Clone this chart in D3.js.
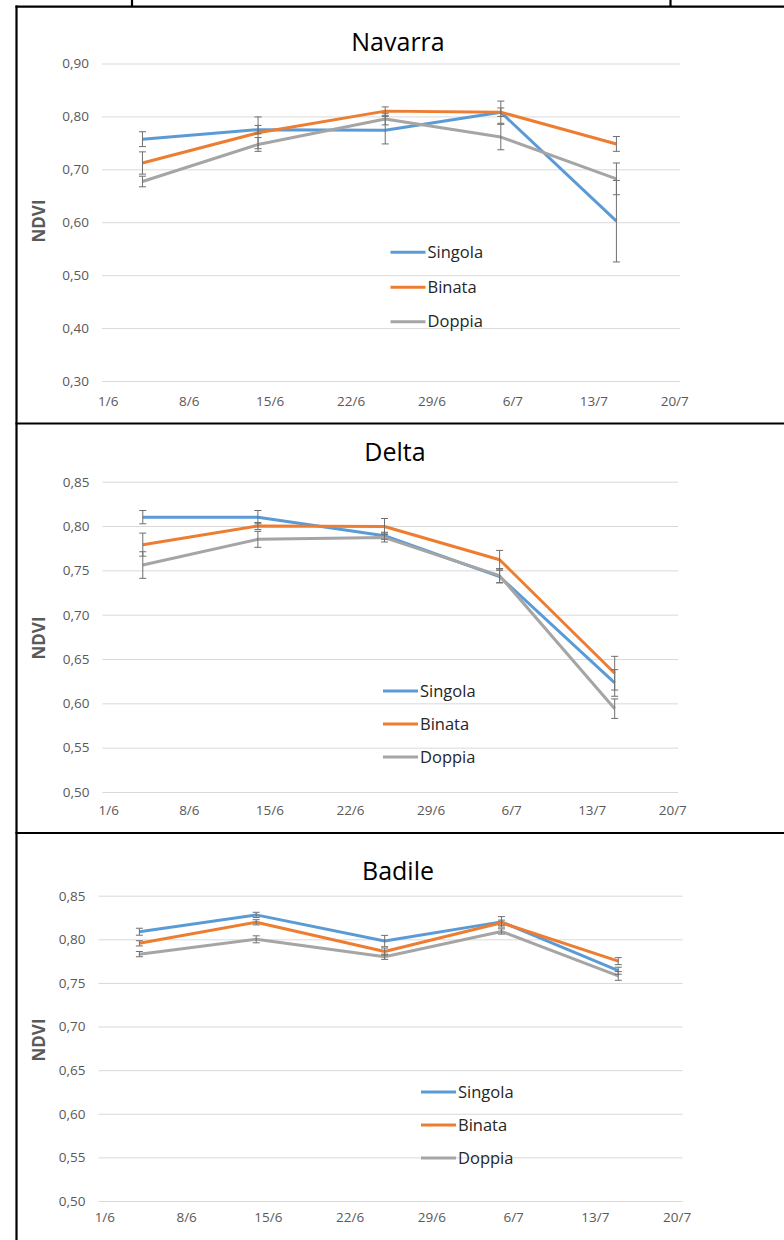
<!DOCTYPE html>
<html>
<head>
<meta charset="utf-8">
<script src="https://cdn.jsdelivr.net/npm/d3@7"></script>
<style>
  html, body { margin: 0; padding: 0; background: #fff; }
  svg { display: block; }
  text { font-family: "Open Sans", "Noto Sans", sans-serif; }
</style>
</head>
<body>
<svg id="chart" width="784" height="1240"></svg>
<script>
// ---------------- DATA ----------------
const sampleDates = ["4/6", "14/6", "25/6", "5/7", "15/7"];
const xTickLabels = ["1/6", "8/6", "15/6", "22/6", "29/6", "6/7", "13/7", "20/7"];
const seriesNames = ["Singola", "Binata", "Doppia"];

const navarraYTicks = [0.30, 0.40, 0.50, 0.60, 0.70, 0.80, 0.90];
const navarraSingola = [0.757, 0.775, 0.774, 0.808, 0.602];
const navarraSingolaErr = [0.014, 0.008, 0.026, 0.021, 0.077];
const navarraBinata = [0.712, 0.769, 0.810, 0.808, 0.748];
const navarraBinataErr = [0.021, 0.030, 0.008, 0.008, 0.014];
const navarraDoppia = [0.677, 0.747, 0.795, 0.761, 0.682];
const navarraDoppiaErr = [0.010, 0.013, 0.011, 0.024, 0.030];

const deltaYTicks = [0.50, 0.55, 0.60, 0.65, 0.70, 0.75, 0.80, 0.85];
const deltaSingola = [0.810, 0.810, 0.789, 0.743, 0.623];
const deltaSingolaErr = [0.0075, 0.0075, 0.004, 0.007, 0.015];
const deltaBinata = [0.779, 0.800, 0.7995, 0.762, 0.634];
const deltaBinataErr = [0.013, 0.004, 0.009, 0.0105, 0.019];
const deltaDoppia = [0.756, 0.785, 0.787, 0.744, 0.594];
const deltaDoppiaErr = [0.015, 0.009, 0.005, 0.008, 0.011];

const badileYTicks = [0.50, 0.55, 0.60, 0.65, 0.70, 0.75, 0.80, 0.85];
const badileSingola = [0.8087, 0.828, 0.798, 0.820, 0.764];
const badileSingolaErr = [0.004, 0.003, 0.0065, 0.006, 0.004];
const badileBinata = [0.7954, 0.8195, 0.786, 0.819, 0.775];
const badileBinataErr = [0.003, 0.003, 0.004, 0.003, 0.004];
const badileDoppia = [0.783, 0.800, 0.780, 0.809, 0.758];
const badileDoppiaErr = [0.003, 0.004, 0.003, 0.003, 0.005];

// ---------------- STYLE / LAYOUT ----------------
const colors = ["#5B9BD5", "#ED7D31", "#A5A5A5"];
const parseDate = s => d3.timeParse("%d/%m/%Y")(s + "/2021");
const hour = 3600 * 1000;
const xDomain = [new Date(parseDate("1/6").getTime() - 12 * hour),
                 new Date(parseDate("20/7").getTime() + 12 * hour)];

const panels = [
  { title: "Navarra", yTicks: navarraYTicks,
    series: [[navarraSingola, navarraSingolaErr], [navarraBinata, navarraBinataErr], [navarraDoppia, navarraDoppiaErr]],
    left: 102, right: 680, top: 63.5, bottom: 381,
    titleX: 398, titleY: 51, xPad: 15, ndviY: 221,
    legX: 390.5, legY: [252.3, 287.3, 321.7] },
  { title: "Delta", yTicks: deltaYTicks,
    series: [[deltaSingola, deltaSingolaErr], [deltaBinata, deltaBinataErr], [deltaDoppia, deltaDoppiaErr]],
    left: 102.5, right: 678, top: 481.7, bottom: 792,
    titleX: 395, titleY: 461, xPad: 13, ndviY: 638,
    legX: 383, legY: [691, 724, 757] },
  { title: "Badile", yTicks: badileYTicks,
    series: [[badileSingola, badileSingolaErr], [badileBinata, badileBinataErr], [badileDoppia, badileDoppiaErr]],
    left: 98.5, right: 682.5, top: 895.7, bottom: 1201,
    titleX: 398, titleY: 880, xPad: 11, ndviY: 1040,
    legX: 421, legY: [1092, 1125, 1158] }
];

const svg = d3.select("#chart");
const fmt = v => d3.format(".2f")(v).replace(".", ",");

panels.forEach(p => {
  const g = svg.append("g");
  const x = d3.scaleTime().domain(xDomain).range([p.left, p.right]);
  const y = d3.scaleLinear().domain([p.yTicks[0], p.yTicks[p.yTicks.length - 1]]).range([p.bottom, p.top]);

  // y axis + gridlines
  const ya = g.append("g").attr("transform", `translate(${p.left},0)`)
    .call(d3.axisLeft(y).tickValues(p.yTicks).tickFormat(fmt)
      .tickSize(-(p.right - p.left)).tickPadding(13));
  ya.select(".domain").remove();
  ya.selectAll(".tick line").attr("stroke", "#D9D9D9").attr("stroke-width", 1);
  ya.selectAll(".tick text").attr("fill", "#595959").style("font-size", "13.5px");

  // x axis labels
  const xa = g.append("g").attr("transform", `translate(0,${p.bottom})`)
    .call(d3.axisBottom(x).tickValues(xTickLabels.map(parseDate))
      .tickFormat((d, i) => xTickLabels[i]).tickSize(0).tickPadding(p.xPad));
  xa.select(".domain").remove();
  xa.selectAll(".tick text").attr("fill", "#595959").style("font-size", "13.5px");

  // title
  g.append("text").attr("x", p.titleX).attr("y", p.titleY)
    .attr("text-anchor", "middle").attr("fill", "#000")
    .style("font-size", "25px").text(p.title);

  // NDVI axis title
  g.append("text").attr("transform", `translate(45,${p.ndviY}) rotate(-90)`)
    .attr("text-anchor", "middle").attr("fill", "#595959")
    .style("font-size", "17px").style("font-weight", "bold").text("NDVI");

  // lines
  const line = d3.line().x((d, i) => x(parseDate(sampleDates[i]))).y(d => y(d));
  p.series.forEach((s, si) => {
    g.append("path").datum(s[0]).attr("d", line)
      .attr("fill", "none").attr("stroke", colors[si])
      .attr("stroke-width", 3).attr("stroke-linejoin", "round");
  });

  // error bars
  p.series.forEach((s, si) => {
    s[0].forEach((v, i) => {
      const cx = x(parseDate(sampleDates[i]));
      const e = s[1][i];
      const eg = g.append("g").attr("stroke", "#6F6F6F").attr("stroke-width", 1);
      eg.append("line").attr("x1", cx).attr("x2", cx).attr("y1", y(v + e)).attr("y2", y(v - e));
      eg.append("line").attr("x1", cx - 3.5).attr("x2", cx + 3.5).attr("y1", y(v + e)).attr("y2", y(v + e));
      eg.append("line").attr("x1", cx - 3.5).attr("x2", cx + 3.5).attr("y1", y(v - e)).attr("y2", y(v - e));
    });
  });

  // legend
  seriesNames.forEach((name, si) => {
    const ly = p.legY[si];
    g.append("line").attr("x1", p.legX).attr("x2", p.legX + 35)
      .attr("y1", ly).attr("y2", ly).attr("stroke", colors[si]).attr("stroke-width", 3);
    g.append("text").attr("x", p.legX + 37).attr("y", ly).attr("dy", "0.35em")
      .attr("fill", "#262626").style("font-size", "16.5px").text(name);
  });
});

// table borders
const border = svg.append("g").attr("stroke", "#000").attr("stroke-width", 2.2);
border.append("line").attr("x1", 15.5).attr("x2", 784).attr("y1", 6.7).attr("y2", 6.7);
border.append("line").attr("x1", 132).attr("x2", 132).attr("y1", 0).attr("y2", 6.7);
border.append("line").attr("x1", 670.5).attr("x2", 670.5).attr("y1", 0).attr("y2", 6.7);
border.append("line").attr("x1", 16.5).attr("x2", 16.5).attr("y1", 5.6).attr("y2", 1240);
border.append("line").attr("x1", 15.5).attr("x2", 784).attr("y1", 423.5).attr("y2", 423.5);
border.append("line").attr("x1", 15.5).attr("x2", 784).attr("y1", 833).attr("y2", 833);
</script>
</body>
</html>
